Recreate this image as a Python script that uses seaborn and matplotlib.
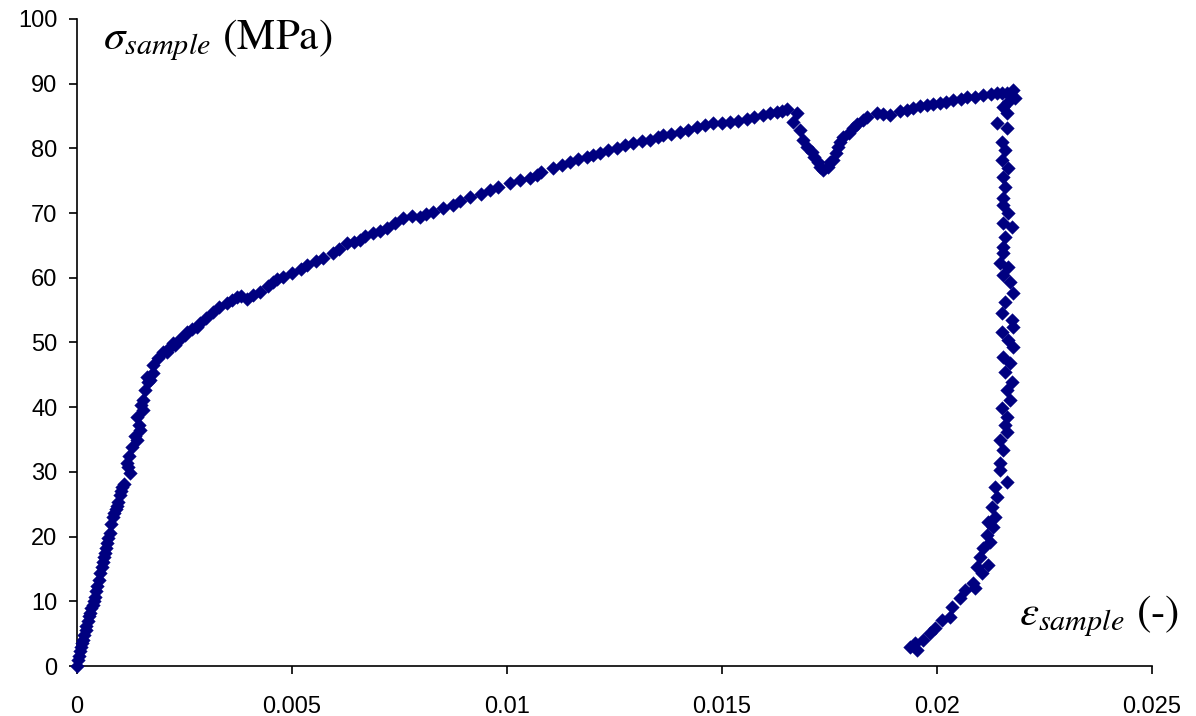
import matplotlib
matplotlib.use("Agg")
import pandas as pd
import seaborn as sns
import matplotlib.pyplot as plt

sns.set_theme(style="white")
plt.rcParams["font.family"] = ["Liberation Sans", "DejaVu Sans"]
plt.rcParams["mathtext.fontset"] = "stix"

# strain (-) / stress (MPa), in order along the test
strain = [
    0, 0.00003, 0.00005, 0.00008, 0.0001, 0.00012, 0.00014, 0.00017, 0.0002, 0.00022,
    0.00025, 0.00028, 0.0003, 0.00033, 0.00036, 0.00039, 0.00042, 0.00045, 0.00047, 0.0005,
    0.00053, 0.00057, 0.0006, 0.00062, 0.00065, 0.00068, 0.0007, 0.00073, 0.00077, 0.0008,
    0.00084, 0.00087, 0.0009, 0.00093, 0.00095, 0.001, 0.00103, 0.00105, 0.0011, 0.00123,
    0.00116, 0.0012, 0.00118, 0.00128, 0.0014, 0.00135, 0.00147, 0.00143, 0.0014, 0.00153,
    0.00148, 0.00153, 0.00158, 0.00165, 0.00163, 0.0017, 0.00177, 0.00177, 0.00188, 0.002,
    0.00209, 0.00215, 0.00223, 0.00228, 0.0024, 0.00251, 0.00256, 0.00268, 0.00279, 0.00286,
    0.003, 0.00316, 0.0033, 0.00349, 0.0036, 0.00372, 0.00382, 0.00395, 0.0041, 0.00426,
    0.00445, 0.00455, 0.00465, 0.0048, 0.005, 0.0052, 0.00535, 0.00555, 0.00572, 0.00595,
    0.0061, 0.00628, 0.00645, 0.00658, 0.0067, 0.00688, 0.00705, 0.00721, 0.0074, 0.00758,
    0.00778, 0.00798, 0.00812, 0.00828, 0.0085, 0.00874, 0.0089, 0.00914, 0.0094, 0.0096,
    0.0098, 0.01007, 0.0103, 0.01053, 0.0107, 0.0108, 0.01107, 0.01127, 0.01147, 0.01166,
    0.01186, 0.012, 0.01216, 0.01236, 0.01256, 0.01275, 0.01293, 0.01313, 0.01333, 0.0135,
    0.01363, 0.01382, 0.01402, 0.01422, 0.01442, 0.0146, 0.01479, 0.015, 0.01519, 0.01538,
    0.01558, 0.01575, 0.01595, 0.01612, 0.01628, 0.0164, 0.01651,
    # dip
    0.01674, 0.01665, 0.01681, 0.01688, 0.01698, 0.01709, 0.01715, 0.01723, 0.01728, 0.01735,
    0.01747, 0.01752, 0.01758, 0.01765, 0.0177, 0.01775, 0.01781, 0.01795, 0.01805, 0.01815,
    0.01828, 0.01837, 0.0186, 0.01875, 0.01891, 0.01914, 0.0193, 0.01944, 0.0196, 0.01977,
    0.0199, 0.02007, 0.02022, 0.02037, 0.02055, 0.0207, 0.02088, 0.02107, 0.02125, 0.0214,
    0.02152, 0.02163, 0.02177,
    # unloading
    0.02181, 0.02165, 0.02153, 0.02163, 0.0214, 0.02163, 0.02151, 0.02158, 0.02151, 0.02165,
    0.02153, 0.02158, 0.02153, 0.02153, 0.02165, 0.02153, 0.02174, 0.02158, 0.02153, 0.02153,
    0.02147, 0.02165, 0.02153, 0.0217, 0.02177, 0.02158, 0.02151, 0.02174, 0.02177, 0.02151,
    0.02165, 0.02177, 0.02153, 0.0217, 0.02158, 0.02174, 0.02163, 0.0217, 0.02151, 0.02163,
    0.02158, 0.02163, 0.02147, 0.02153, 0.02147, 0.02147, 0.02163, 0.02135, 0.0214, 0.02128,
    0.02135, 0.02119, 0.0213, 0.02116, 0.02123, 0.02107, 0.021, 0.02119, 0.02093, 0.02105,
    0.02084, 0.02088, 0.02065, 0.02053, 0.02035, 0.0203, 0.02012, 0.01995, 0.01984, 0.01967,
    0.01949, 0.01937, 0.01953,
]
stress = [
    0, 0.9, 1.5, 2.3, 3, 3.5, 4, 4.8, 5.5, 6.2,
    7, 7.7, 8.2, 8.9, 9.5, 10.1, 10.7, 11.6, 12.3, 13.3,
    14.4, 15.3, 16, 16.8, 17.5, 18.3, 19, 19.8, 20.6, 22,
    23, 23.6, 24.2, 24.8, 25.3, 26.5, 27.1, 27.7, 28.2, 29.8,
    31.4, 32.5, 30.7, 33.8, 34.9, 35.5, 36.5, 37.3, 38.5, 39.6,
    40.3, 41.1, 42.7, 43.9, 44.7, 44.2, 45.3, 46.5, 47.6, 48.5,
    48.5, 49.2, 49.9, 49.6, 50.5, 51.2, 51.6, 52.1, 52.4, 53,
    53.8, 54.7, 55.5, 56.1, 56.5, 57, 57.2, 56.7, 57.3, 57.8,
    58.8, 59.3, 59.8, 60.1, 60.7, 61.4, 62, 62.6, 63.1, 63.8,
    64.5, 65.4, 65.5, 65.8, 66.5, 66.9, 67.2, 67.7, 68.5, 69.2,
    69.6, 69.4, 69.9, 70.2, 70.8, 71.3, 71.8, 72.5, 73, 73.6,
    74, 74.7, 75.1, 75.4, 75.9, 76.3, 77, 77.4, 77.9, 78.3,
    78.7, 79, 79.3, 79.7, 80.1, 80.5, 80.8, 81.1, 81.3, 81.7,
    82, 82.2, 82.5, 82.9, 83.3, 83.6, 83.9, 84, 84.1, 84.3,
    84.5, 84.8, 85.2, 85.4, 85.6, 85.8, 86.1,
    85.4, 84.1, 82.8, 81.3, 80.2, 79.4, 78.6, 77.9, 77.1, 76.7,
    77.1, 77.9, 78.2, 79.3, 80.2, 81, 81.8, 82.4, 83.2, 83.8,
    84.4, 84.9, 85.5, 85.3, 85.2, 85.8, 86, 86.2, 86.5, 86.7,
    86.8, 87, 87.2, 87.5, 87.7, 87.9, 88, 88.2, 88.4, 88.6,
    88.6, 88.6, 89,
    87.8, 87.2, 86.4, 85.5, 83.9, 83.2, 81, 79.8, 78.2, 77,
    75.6, 74, 72.3, 71.3, 70, 68.5, 67.9, 66.3, 64.8, 63.8,
    62.3, 61.7, 60.4, 59.4, 57.7, 56.3, 54.6, 53.5, 52.4, 51.6,
    50.4, 49.3, 47.8, 46.8, 45.4, 43.9, 42.7, 41.1, 39.9, 38.5,
    37.2, 36.2, 34.9, 33.4, 31.4, 30.3, 28.4, 27.7, 26.1, 24.6,
    23, 22.3, 21.5, 20.2, 19.2, 18.2, 16.8, 15.6, 15.3, 14.4,
    12.8, 12.1, 11.7, 10.5, 9.1, 7.6, 7.1, 5.9, 5.1, 4,
    3.6, 2.9, 2.5,
]

x_ticks = [0, 0.005, 0.01, 0.015, 0.02, 0.025]
x_labels = ["0", "0.005", "0.01", "0.015", "0.02", "0.025"]
y_ticks = list(range(0, 101, 10))

df = pd.DataFrame({"strain": strain, "stress": stress})

fig = plt.figure(figsize=(11.96, 7.16), dpi=100)
ax = fig.add_axes([0.0644, 0.0698, 0.8988, 0.9037])

sns.scatterplot(data=df, x="strain", y="stress", ax=ax, marker="D", s=48,
                color="#000080", edgecolor="#000080", linewidth=0.3, clip_on=False,
                zorder=3)

ax.set_xlim(0, 0.025)
ax.set_ylim(0, 100)
ax.set_xticks(x_ticks)
ax.set_xticklabels(x_labels)
ax.set_yticks(y_ticks)
ax.tick_params(axis="both", direction="out", length=5.5, width=1.2, color="black",
               labelsize=17, labelcolor="black", bottom=True, left=True)
ax.tick_params(axis="x", pad=16)
ax.tick_params(axis="y", pad=8.5)
ax.set_xlabel("")
ax.set_ylabel("")
for side in ["top", "right"]:
    ax.spines[side].set_visible(False)
for side in ["left", "bottom"]:
    ax.spines[side].set_color("black")
    ax.spines[side].set_linewidth(1.2)

ax.text(0.0006, 95.3, r"$\sigma_{sample}$ (MPa)", fontsize=31, family="STIXGeneral",
        color="black", ha="left", va="baseline")
ax.text(0.0219, 6.3, r"$\varepsilon_{sample}$ (-)", fontsize=31, family="STIXGeneral",
        color="black", ha="left", va="baseline", clip_on=False)

fig.savefig("out.png", dpi=100)
